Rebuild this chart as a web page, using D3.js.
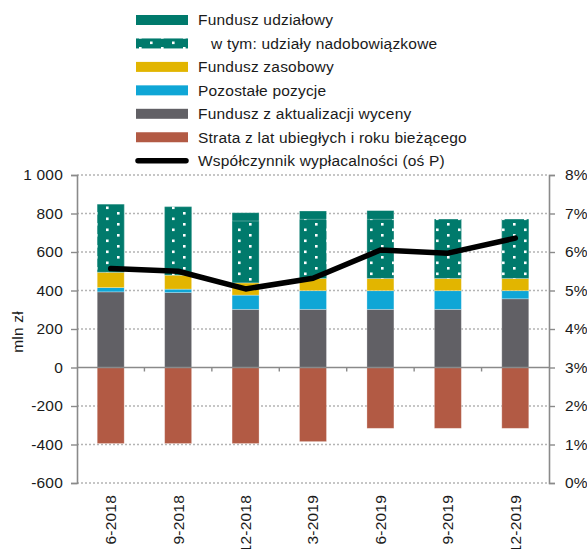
<!DOCTYPE html>
<html><head><meta charset="utf-8">
<script src="https://cdn.jsdelivr.net/npm/d3@7"></script>
<style>
body{margin:0;background:#fff;}
text{font-family:"Liberation Sans",Arial,sans-serif;fill:#1a1a1a;letter-spacing:0.2px;}
</style></head>
<body><svg id="c" width="587" height="549"></svg>
<script>
const categories = ["6-2018","9-2018","12-2018","3-2019","6-2019","9-2019","12-2019"];
const funduszAktualizacji = [393, 389, 302, 302, 302, 302, 357];
const pozostalePozycje = [22, 18, 74, 97, 97, 97, 42];
const funduszZasobowy = [80, 73, 64, 64, 64, 64, 64];
const funduszUdzialowy = [353, 355, 364, 350, 352, 308, 308];
const udzialyNadobowiazkowe = [353, 355, 321, 307, 307, 308, 308];
const strata = [-395, -395, -395, -385, -316, -316, -316];
const wspolczynnik = [5.57, 5.50, 5.04, 5.32, 6.05, 5.97, 6.36];
const leftTicks = [-600,-400,-200,0,200,400,600,800,1000];
const rightTicks = [0,1,2,3,4,5,6,7,8];
const legendLabels = ["Fundusz udziałowy","w tym: udziały nadobowiązkowe","Fundusz zasobowy","Pozostałe pozycje","Fundusz z aktualizacji wyceny","Strata z lat ubiegłych i roku bieżącego","Współczynnik wypłacalności (oś P)"];

const C = {teal:"#007a6c", yellow:"#e2b500", blue:"#0fa6d6", grey:"#616065", red:"#b25a44", axis:"#8a8a8a", grid:"#b4b4b4"};
const svg = d3.select("#c");
const L = 77, R = 549, T = 175, B = 483;
const x = d3.scaleBand().domain(categories).range([L, R]).paddingInner(0.6).paddingOuter(0.3);
const y = d3.scaleLinear().domain([-600, 1000]).range([B, T]);
const y2 = d3.scaleLinear().domain([0, 8]).range([B, T]);
const fs = "15.5px";

// pattern
const defs = svg.append("defs");
const pat = defs.append("pattern").attr("id","dots").attr("patternUnits","userSpaceOnUse")
  .attr("width",22).attr("height",11).attr("x",95).attr("y",3);
pat.append("rect").attr("width",22).attr("height",11).attr("fill",C.teal);
pat.append("rect").attr("x",0).attr("y",0).attr("width",2.6).attr("height",2.6).attr("fill","#fff");
pat.append("rect").attr("x",11).attr("y",5.5).attr("width",2.6).attr("height",2.6).attr("fill","#fff");

// gridlines
svg.append("g").selectAll("line").data(leftTicks.filter(d=>d!==0)).join("line")
  .attr("x1",L).attr("x2",R).attr("y1",d=>y(d)).attr("y2",d=>y(d))
  .attr("stroke",C.grid).attr("stroke-width",1.3).attr("stroke-dasharray","2,2");

// bars
const g = svg.append("g");
categories.forEach((c,i)=>{
  const bx = x(c), bw = x.bandwidth();
  let base = 0;
  const segs = [
    [funduszAktualizacji[i], C.grey],
    [pozostalePozycje[i], C.blue],
    [funduszZasobowy[i], C.yellow],
    [funduszUdzialowy[i], C.teal]
  ];
  segs.forEach(([v,col],k)=>{
    g.append("rect").attr("x",bx).attr("width",bw)
      .attr("y",y(base+v)).attr("height",y(base)-y(base+v))
      .attr("fill",col).attr("stroke","rgba(255,255,255,0.35)").attr("stroke-width",0.8);
    if(k===3){
      const dv = udzialyNadobowiazkowe[i];
      g.append("rect").attr("x",bx).attr("width",bw)
        .attr("y",y(base+dv)).attr("height",y(base)-y(base+dv))
        .attr("fill","url(#dots)").attr("stroke","rgba(255,255,255,0.35)").attr("stroke-width",0.8);
    }
    base += v;
  });
  g.append("rect").attr("x",bx).attr("width",bw)
    .attr("y",y(0)).attr("height",y(strata[i])-y(0))
    .attr("fill",C.red).attr("stroke","rgba(255,255,255,0.35)").attr("stroke-width",0.8);
});

// zero line with category ticks
svg.append("line").attr("x1",L).attr("x2",R).attr("y1",y(0)).attr("y2",y(0))
  .attr("stroke",C.axis).attr("stroke-width",1.6);
const step = x.step();
svg.append("g").selectAll("line").data(categories.slice(1)).join("line")
  .attr("x1",d=>x(d)-step*0.3).attr("x2",d=>x(d)-step*0.3)
  .attr("y1",y(0)).attr("y2",y(0)+4).attr("stroke",C.axis).attr("stroke-width",1.4);

// left axis
const ax = svg.append("g").attr("transform",`translate(${L},0)`)
  .call(d3.axisLeft(y).tickValues(leftTicks).tickSize(6).tickPadding(8)
    .tickFormat(d=>d3.format(",")(d).replace(/,/g," ").replace("−","-")));
ax.select(".domain").attr("stroke",C.axis).attr("stroke-width",1.6);
ax.selectAll(".tick line").attr("stroke",C.axis).attr("stroke-width",1.4);
ax.selectAll("text").style("font-size",fs).attr("fill","#1a1a1a");

// right axis
const ax2 = svg.append("g").attr("transform",`translate(${R},0)`)
  .call(d3.axisRight(y2).tickValues(rightTicks).tickSize(6).tickPadding(10).tickFormat(d=>d+"%"));
ax2.select(".domain").attr("stroke",C.axis).attr("stroke-width",1.6);
ax2.selectAll(".tick line").attr("stroke",C.axis).attr("stroke-width",1.4);
ax2.selectAll("text").style("font-size",fs).attr("fill","#1a1a1a");

// line
const line = d3.line().x((d,i)=>x(categories[i])+x.bandwidth()/2).y(d=>y2(d));
svg.append("path").datum(wspolczynnik).attr("d",line).attr("fill","none")
  .attr("stroke","#000").attr("stroke-width",5.5).attr("stroke-linejoin","round").attr("stroke-linecap","round");

// x labels
svg.append("g").selectAll("text").data(categories).join("text")
  .attr("transform",d=>`translate(${x(d)+x.bandwidth()/2},495) rotate(-90)`)
  .attr("text-anchor","end").attr("dy","0.35em").style("font-size",fs).text(d=>d);

// y title
svg.append("text").attr("transform","translate(18,332) rotate(-90)")
  .attr("text-anchor","middle").attr("dy","0.35em").style("font-size",fs).text("mln zł");

// legend
const lg = svg.append("g");
const ly0 = 20, lstep = 23.45;
const swFill = [C.teal,"url(#dots)",C.yellow,C.blue,C.grey,C.red];
legendLabels.forEach((t,i)=>{
  const cy = ly0 + i*lstep;
  if(i<6){
    lg.append("rect").attr("x",136).attr("y",cy-5).attr("width",52).attr("height",10).attr("fill",swFill[i]);
  } else {
    lg.append("line").attr("x1",138).attr("x2",186).attr("y1",cy).attr("y2",cy)
      .attr("stroke","#000").attr("stroke-width",5.5).attr("stroke-linecap","round");
  }
  lg.append("text").attr("x", i===1 ? 211 : 198).attr("y",cy).attr("dy","0.35em")
    .style("font-size",fs).text(t);
});
</script></body></html>
